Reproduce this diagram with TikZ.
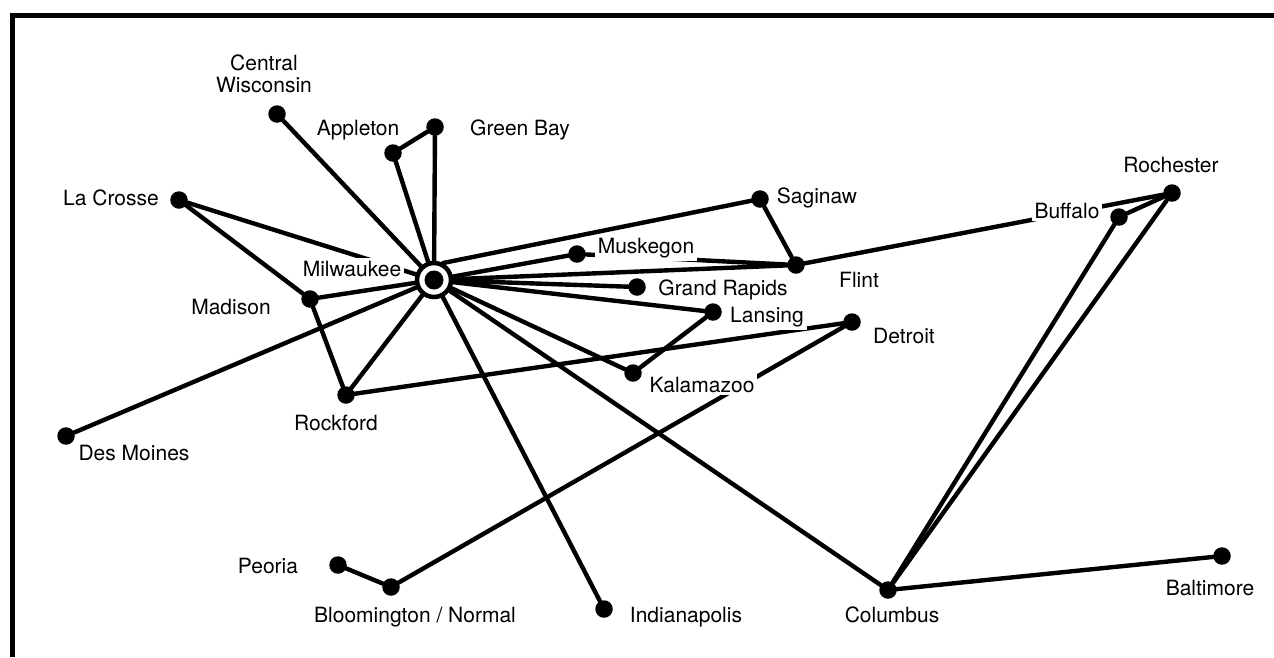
\documentclass[tikz,border=0pt]{standalone}
\usepackage{fontspec}
\setmainfont{TeX Gyre Heros}
\begin{document}
\begin{tikzpicture}[x=1pt,y=-1pt,
  city/.style={circle,fill=black,inner sep=0pt,minimum size=17.5pt},
  hubring/.style={circle,draw=black,line width=4.5pt,fill=white,inner sep=0pt,minimum size=34pt},
  hubdot/.style={circle,fill=black,inner sep=0pt,minimum size=19pt},
  lbl/.style={fill=white,inner sep=3pt,anchor=base,font=\fontsize{21}{22}\selectfont},
  link/.style={line width=4.4pt,line cap=round},
  frameline/.style={line width=5pt}]
\useasboundingbox (0,0) rectangle (1274,657);
% frame (top and left)
\draw[frameline] (1274,15.5) -- (12,15.5) -- (12,657);
% cities
\node[city] (cw) at (277,114) {};
\node[city] (app) at (393,153) {};
\node[city] (gb) at (435,127) {};
\node[city] (lac) at (179,200) {};
\node[city] (mad) at (310,299) {};
\node[city] (rock) at (346,395) {};
\node[city] (dm) at (66,436) {};
\node[city] (musk) at (577,254) {};
\node[city] (sag) at (760,199) {};
\node[city] (flint) at (796,265) {};
\node[city] (gr) at (637,287) {};
\node[city] (lan) at (713,312) {};
\node[city] (det) at (852,322) {};
\node[city] (kal) at (633,373) {};
\node[city] (buf) at (1119,217) {};
\node[city] (roch) at (1172,193) {};
\node[city] (peo) at (338,565) {};
\node[city] (bloom) at (391,587) {};
\node[city] (ind) at (604,609) {};
\node[city] (col) at (888,590) {};
\node[city] (balt) at (1222,556) {};
\node[hubring] (hub) at (434,280) {};
% connectors
\draw[link] (hub) -- (cw);
\draw[link] (hub) -- (app);
\draw[link] (hub) -- (gb);
\draw[link] (app) -- (gb);
\draw[link] (hub) -- (lac);
\draw[link] (lac) -- (mad);
\draw[link] (hub) -- (mad);
\draw[link] (hub) -- (dm);
\draw[link] (mad) -- (rock);
\draw[link] (hub) -- (rock);
\draw[link] (rock) -- (det);
\draw[link] (hub.62) -- (sag);
\draw[link] (hub) -- (musk);
\draw[link] (musk) -- (flint);
\draw[link] (hub) -- (flint);
\draw[link] (sag) -- (flint);
\draw[link] (flint) -- (roch);
\draw[link] (hub) -- (gr);
\draw[link] (hub) -- (lan);
\draw[link] (lan) -- (kal);
\draw[link] (hub) -- (kal);
\draw[link] (det) -- (bloom);
\draw[link] (bloom) -- (peo);
\draw[link] (hub) -- (ind);
\draw[link] (hub) -- (col);
\draw[link] (col) -- (buf);
\draw[link] (col) -- (roch);
\draw[link] (col) -- (balt);
\draw[link] (buf) -- (roch);
\node[hubdot] (hubc) at (hub.center) {};
% labels
\node[lbl,anchor=north,align=center] (tcw) at (264,52) {Central\\Wisconsin};
\node[lbl] (tapp) at (358,135) {Appleton};
\node[lbl] (tgb) at (520,135) {Green Bay};
\node[lbl] (tlac) at (111,205) {La Crosse};
\node[lbl] (tmil) at (352,276) {Milwaukee};
\node[lbl] (tmad) at (231,314) {Madison};
\node[lbl] (trock) at (336,430) {Rockford};
\node[lbl] (tdm) at (134,460) {Des Moines};
\node[lbl] (tmusk) at (646,253) {Muskegon};
\node[lbl] (tsag) at (817,203) {Saginaw};
\node[lbl] (tgr) at (723,295) {Grand Rapids};
\node[lbl] (tflint) at (859,287) {Flint};
\node[lbl] (tlan) at (767,322) {Lansing};
\node[lbl] (tdet) at (904,343) {Detroit};
\node[lbl] (tkal) at (702,392) {Kalamazoo};
\node[lbl] (tbuf) at (1067,218) {Buffalo};
\node[lbl] (troch) at (1171,172) {Rochester};
\node[lbl] (tpeo) at (268,573) {Peoria};
\node[lbl] (tbloom) at (415,622) {Bloomington / Normal};
\node[lbl] (tind) at (686,622) {Indianapolis};
\node[lbl] (tcol) at (892,622) {Columbus};
\node[lbl] (tbalt) at (1210,595) {Baltimore};
\end{tikzpicture}
\end{document}
